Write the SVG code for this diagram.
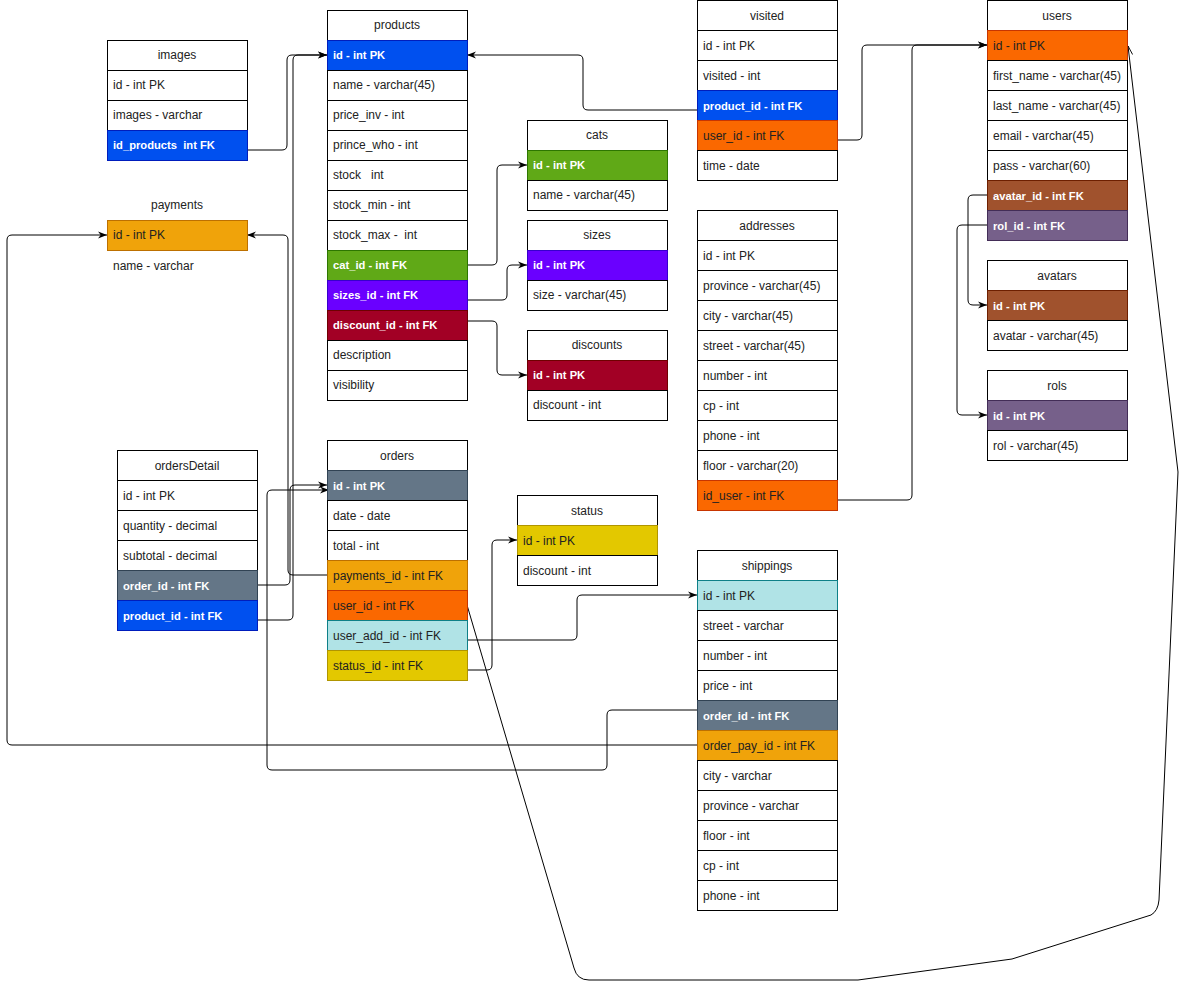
<svg xmlns="http://www.w3.org/2000/svg" width="1186" height="989" viewBox="0 0 1186 989">
<style>
.t{font-family:"Liberation Sans",Arial,Helvetica,sans-serif;font-size:12px;fill:#222;white-space:pre}
.h{text-anchor:middle}
.w{fill:#fff;font-weight:bold;font-size:11.2px}
.r{fill:#fff;stroke:#000;stroke-width:1}
.blue{fill:#0050ef;stroke:#001DBC}
.green{fill:#60a917;stroke:#2D7600}
.purple{fill:#6a00ff;stroke:#3700CC}
.red{fill:#a20025;stroke:#6F0000}
.orange{fill:#fa6800;stroke:#C73500}
.amber{fill:#f0a30a;stroke:#BD7000}
.slate{fill:#647687;stroke:#314354}
.brown{fill:#a0522d;stroke:#6D1F00}
.mauve{fill:#76608a;stroke:#432D57}
.cyan{fill:#b0e3e6;stroke:#0e8088}
.yellow{fill:#e3c800;stroke:#B09500}
.c{fill:none;stroke:#000;stroke-width:1}
</style>
<defs>
<marker id="arr" viewBox="0 0 10 10" refX="10" refY="5" markerWidth="9" markerHeight="9" markerUnits="userSpaceOnUse" orient="auto">
<path d="M0,1 L10,5 L0,9 L3,5 z" fill="#000"/>
</marker>
<marker id="open" viewBox="0 0 10 10" refX="10" refY="5" markerWidth="9" markerHeight="9" markerUnits="userSpaceOnUse" orient="auto">
<path d="M0,1 L10,5 L0,9" fill="none" stroke="#000" stroke-width="1"/>
</marker>
</defs>

<g id="connectors">
<path class="c" marker-end="url(#arr)" d="M247,150 H282 Q287,150 287,145 V60 Q287,55 292,55 H327"/>
<path class="c" marker-end="url(#arr)" d="M257,620 H288 Q293,620 293,615 V60 Q293,55 298,55 H327"/>
<path class="c" marker-end="url(#arr)" d="M257,585 H285 Q290,585 290,580 V490 Q290,485 295,485 H327"/>
<path class="c" marker-end="url(#arr)" d="M327,575 H293 Q288,575 288,570 V240 Q288,235 283,235 H247"/>
<path class="c" marker-end="url(#arr)" d="M697,710 H612 Q607,710 607,715 V765 Q607,770 602,770 H272 Q267,770 267,765 V495 Q267,490 272,490 H329"/>
<path class="c" marker-end="url(#arr)" d="M697,745 H12 Q7,745 7,740 V240 Q7,235 12,235 H107"/>
<path class="c" marker-end="url(#arr)" d="M697,110 H588 Q583,110 583,105 V60 Q583,55 578,55 H467"/>
<path class="c" marker-end="url(#arr)" d="M837,140 H857 Q862,140 862,135 V50 Q862,45 867,45 H987"/>
<path class="c" marker-end="url(#arr)" d="M837,500 H907 Q912,500 912,495 V50 Q912,45 917,45 H987"/>
<path class="c" marker-end="url(#arr)" d="M987,195 H973 Q968,195 968,200 V300 Q968,305 973,305 H987"/>
<path class="c" marker-end="url(#arr)" d="M987,225 H962 Q957,225 957,230 V410 Q957,415 962,415 H987"/>
<path class="c" marker-end="url(#arr)" d="M467,265 H492 Q497,265 497,260 V170 Q497,165 502,165 H527"/>
<path class="c" marker-end="url(#arr)" d="M467,300 H502 Q507,300 507,295 V270 Q507,265 512,265 H527"/>
<path class="c" marker-end="url(#arr)" d="M467,321 H492 Q497,321 497,326 V370 Q497,375 502,375 H527"/>
<path class="c" marker-end="url(#arr)" d="M467,670 H487 Q492,670 492,665 V545 Q492,540 497,540 H517"/>
<path class="c" marker-end="url(#arr)" d="M457,640 H572 Q577,640 577,635 V600 Q577,595 582,595 H697"/>
<path class="c" marker-end="url(#open)" d="M467,605 L574,968 Q577,980 589,980 L858,980 L1012,959 L1151,915 Q1158,911 1159,900 L1178,472 L1128,46"/>
</g>

<g id="images">
<rect class="r" x="107.5" y="40.5" width="140" height="30"/><text class="t h" x="177" y="59">images</text>
<rect class="r" x="107.5" y="70.5" width="140" height="30"/><text class="t" x="113" y="89">id - int PK</text>
<rect class="r" x="107.5" y="100.5" width="140" height="30"/><text class="t" x="113" y="119">images - varchar</text>
<rect class="blue" x="107.5" y="130.5" width="140" height="30"/><text class="t w" x="113" y="149">id_products  int FK</text>
</g>

<g id="products">
<rect class="r" x="327.5" y="10.5" width="140" height="30"/><text class="t h" x="397" y="29">products</text>
<rect class="blue" x="327.5" y="40.5" width="140" height="30"/><text class="t w" x="333" y="59">id - int PK</text>
<rect class="r" x="327.5" y="70.5" width="140" height="30"/><text class="t" x="333" y="89">name - varchar(45)</text>
<rect class="r" x="327.5" y="100.5" width="140" height="30"/><text class="t" x="333" y="119">price_inv - int</text>
<rect class="r" x="327.5" y="130.5" width="140" height="30"/><text class="t" x="333" y="149">prince_who - int</text>
<rect class="r" x="327.5" y="160.5" width="140" height="30"/><text class="t" x="333" y="179">stock   int</text>
<rect class="r" x="327.5" y="190.5" width="140" height="30"/><text class="t" x="333" y="209">stock_min - int</text>
<rect class="r" x="327.5" y="220.5" width="140" height="30"/><text class="t" x="333" y="239">stock_max -  int</text>
<rect class="green" x="327.5" y="250.5" width="140" height="30"/><text class="t w" x="333" y="269">cat_id - int FK</text>
<rect class="purple" x="327.5" y="280.5" width="140" height="30"/><text class="t w" x="333" y="299">sizes_id - int FK</text>
<rect class="red" x="327.5" y="310.5" width="140" height="30"/><text class="t w" x="333" y="329">discount_id - int FK</text>
<rect class="r" x="327.5" y="340.5" width="140" height="30"/><text class="t" x="333" y="359">description</text>
<rect class="r" x="327.5" y="370.5" width="140" height="30"/><text class="t" x="333" y="389">visibility</text>
</g>

<g id="payments">
<text class="t h" x="177" y="209">payments</text>
<rect class="amber" x="107.5" y="220.5" width="140" height="30"/><text class="t" x="113" y="239">id - int PK</text>
<text class="t" x="113" y="270">name - varchar</text>
</g>

<g id="cats">
<rect class="r" x="527.5" y="120.5" width="140" height="30"/><text class="t h" x="597" y="139">cats</text>
<rect class="green" x="527.5" y="150.5" width="140" height="30"/><text class="t w" x="533" y="169">id - int PK</text>
<rect class="r" x="527.5" y="180.5" width="140" height="30"/><text class="t" x="533" y="199">name - varchar(45)</text>
</g>

<g id="sizes">
<rect class="r" x="527.5" y="220.5" width="140" height="30"/><text class="t h" x="597" y="239">sizes</text>
<rect class="purple" x="527.5" y="250.5" width="140" height="30"/><text class="t w" x="533" y="269">id - int PK</text>
<rect class="r" x="527.5" y="280.5" width="140" height="30"/><text class="t" x="533" y="299">size - varchar(45)</text>
</g>

<g id="discounts">
<rect class="r" x="527.5" y="330.5" width="140" height="30"/><text class="t h" x="597" y="349">discounts</text>
<rect class="red" x="527.5" y="360.5" width="140" height="30"/><text class="t w" x="533" y="379">id - int PK</text>
<rect class="r" x="527.5" y="390.5" width="140" height="30"/><text class="t" x="533" y="409">discount - int</text>
</g>

<g id="visited">
<rect class="r" x="697.5" y="0.5" width="140" height="30"/><text class="t h" x="767" y="20">visited</text>
<rect class="r" x="697.5" y="30.5" width="140" height="30"/><text class="t" x="703" y="50">id - int PK</text>
<rect class="r" x="697.5" y="60.5" width="140" height="30"/><text class="t" x="703" y="80">visited - int</text>
<rect class="blue" x="697.5" y="90.5" width="140" height="30"/><text class="t w" x="703" y="110">product_id - int FK</text>
<rect class="orange" x="697.5" y="120.5" width="140" height="30"/><text class="t" x="703" y="140">user_id - int FK</text>
<rect class="r" x="697.5" y="150.5" width="140" height="30"/><text class="t" x="703" y="170">time - date</text>
</g>

<g id="addresses">
<rect class="r" x="697.5" y="210.5" width="140" height="30"/><text class="t h" x="767" y="230">addresses</text>
<rect class="r" x="697.5" y="240.5" width="140" height="30"/><text class="t" x="703" y="260">id - int PK</text>
<rect class="r" x="697.5" y="270.5" width="140" height="30"/><text class="t" x="703" y="290">province - varchar(45)</text>
<rect class="r" x="697.5" y="300.5" width="140" height="30"/><text class="t" x="703" y="320">city - varchar(45)</text>
<rect class="r" x="697.5" y="330.5" width="140" height="30"/><text class="t" x="703" y="350">street - varchar(45)</text>
<rect class="r" x="697.5" y="360.5" width="140" height="30"/><text class="t" x="703" y="380">number - int</text>
<rect class="r" x="697.5" y="390.5" width="140" height="30"/><text class="t" x="703" y="410">cp - int</text>
<rect class="r" x="697.5" y="420.5" width="140" height="30"/><text class="t" x="703" y="440">phone - int</text>
<rect class="r" x="697.5" y="450.5" width="140" height="30"/><text class="t" x="703" y="470">floor - varchar(20)</text>
<rect class="orange" x="697.5" y="480.5" width="140" height="30"/><text class="t" x="703" y="500">id_user - int FK</text>
</g>

<g id="users">
<rect class="r" x="987.5" y="0.5" width="140" height="30"/><text class="t h" x="1057" y="20">users</text>
<rect class="orange" x="987.5" y="30.5" width="140" height="30"/><text class="t" x="993" y="50">id - int PK</text>
<rect class="r" x="987.5" y="60.5" width="140" height="30"/><text class="t" x="993" y="80">first_name - varchar(45)</text>
<rect class="r" x="987.5" y="90.5" width="140" height="30"/><text class="t" x="993" y="110">last_name - varchar(45)</text>
<rect class="r" x="987.5" y="120.5" width="140" height="30"/><text class="t" x="993" y="140">email - varchar(45)</text>
<rect class="r" x="987.5" y="150.5" width="140" height="30"/><text class="t" x="993" y="170">pass - varchar(60)</text>
<rect class="brown" x="987.5" y="180.5" width="140" height="30"/><text class="t w" x="993" y="200">avatar_id - int FK</text>
<rect class="mauve" x="987.5" y="210.5" width="140" height="30"/><text class="t w" x="993" y="230">rol_id - int FK</text>
</g>

<g id="avatars">
<rect class="r" x="987.5" y="260.5" width="140" height="30"/><text class="t h" x="1057" y="280">avatars</text>
<rect class="brown" x="987.5" y="290.5" width="140" height="30"/><text class="t w" x="993" y="310">id - int PK</text>
<rect class="r" x="987.5" y="320.5" width="140" height="30"/><text class="t" x="993" y="340">avatar - varchar(45)</text>
</g>

<g id="rols">
<rect class="r" x="987.5" y="370.5" width="140" height="30"/><text class="t h" x="1057" y="390">rols</text>
<rect class="mauve" x="987.5" y="400.5" width="140" height="30"/><text class="t w" x="993" y="420">id - int PK</text>
<rect class="r" x="987.5" y="430.5" width="140" height="30"/><text class="t" x="993" y="450">rol - varchar(45)</text>
</g>

<g id="ordersDetail">
<rect class="r" x="117.5" y="450.5" width="140" height="30"/><text class="t h" x="187" y="470">ordersDetail</text>
<rect class="r" x="117.5" y="480.5" width="140" height="30"/><text class="t" x="123" y="500">id - int PK</text>
<rect class="r" x="117.5" y="510.5" width="140" height="30"/><text class="t" x="123" y="530">quantity - decimal</text>
<rect class="r" x="117.5" y="540.5" width="140" height="30"/><text class="t" x="123" y="560">subtotal - decimal</text>
<rect class="slate" x="117.5" y="570.5" width="140" height="30"/><text class="t w" x="123" y="590">order_id - int FK</text>
<rect class="blue" x="117.5" y="600.5" width="140" height="30"/><text class="t w" x="123" y="620">product_id - int FK</text>
</g>

<g id="orders">
<rect class="r" x="327.5" y="440.5" width="140" height="30"/><text class="t h" x="397" y="460">orders</text>
<rect class="slate" x="327.5" y="470.5" width="140" height="30"/><text class="t w" x="333" y="490">id - int PK</text>
<rect class="r" x="327.5" y="500.5" width="140" height="30"/><text class="t" x="333" y="520">date - date</text>
<rect class="r" x="327.5" y="530.5" width="140" height="30"/><text class="t" x="333" y="550">total - int</text>
<rect class="amber" x="327.5" y="560.5" width="140" height="30"/><text class="t" x="333" y="580">payments_id - int FK</text>
<rect class="orange" x="327.5" y="590.5" width="140" height="30"/><text class="t" x="333" y="610">user_id - int FK</text>
<rect class="cyan" x="327.5" y="620.5" width="140" height="30"/><text class="t" x="333" y="640">user_add_id - int FK</text>
<rect class="yellow" x="327.5" y="650.5" width="140" height="30"/><text class="t" x="333" y="670">status_id - int FK</text>
</g>

<g id="status">
<rect class="r" x="517.5" y="495.5" width="140" height="30"/><text class="t h" x="587" y="515">status</text>
<rect class="yellow" x="517.5" y="525.5" width="140" height="30"/><text class="t" x="523" y="545">id - int PK</text>
<rect class="r" x="517.5" y="555.5" width="140" height="30"/><text class="t" x="523" y="575">discount - int</text>
</g>

<g id="shippings">
<rect class="r" x="697.5" y="550.5" width="140" height="30"/><text class="t h" x="767" y="570">shippings</text>
<rect class="cyan" x="697.5" y="580.5" width="140" height="30"/><text class="t" x="703" y="600">id - int PK</text>
<rect class="r" x="697.5" y="610.5" width="140" height="30"/><text class="t" x="703" y="630">street - varchar</text>
<rect class="r" x="697.5" y="640.5" width="140" height="30"/><text class="t" x="703" y="660">number - int</text>
<rect class="r" x="697.5" y="670.5" width="140" height="30"/><text class="t" x="703" y="690">price - int</text>
<rect class="slate" x="697.5" y="700.5" width="140" height="30"/><text class="t w" x="703" y="720">order_id - int FK</text>
<rect class="amber" x="697.5" y="730.5" width="140" height="30"/><text class="t" x="703" y="750">order_pay_id - int FK</text>
<rect class="r" x="697.5" y="760.5" width="140" height="30"/><text class="t" x="703" y="780">city - varchar</text>
<rect class="r" x="697.5" y="790.5" width="140" height="30"/><text class="t" x="703" y="810">province - varchar</text>
<rect class="r" x="697.5" y="820.5" width="140" height="30"/><text class="t" x="703" y="840">floor - int</text>
<rect class="r" x="697.5" y="850.5" width="140" height="30"/><text class="t" x="703" y="870">cp - int</text>
<rect class="r" x="697.5" y="880.5" width="140" height="30"/><text class="t" x="703" y="900">phone - int</text>
</g>
</svg>
